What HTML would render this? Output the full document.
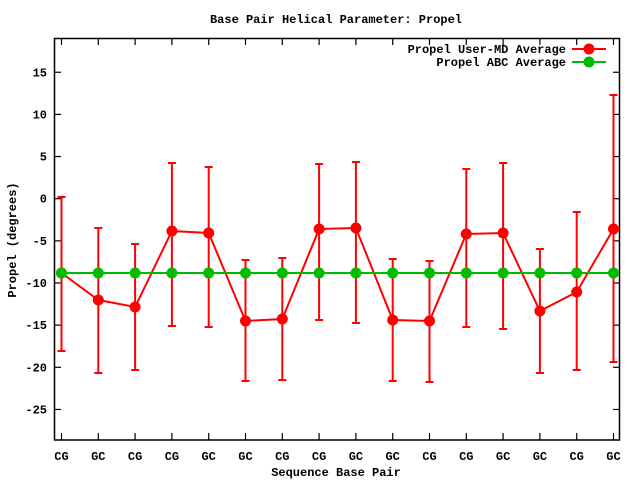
<!DOCTYPE html>
<html><head><style>body{margin:0;background:#fff}svg{display:block}text{font-family:"Liberation Mono",monospace;font-weight:bold;font-size:12px;fill:#000}</style></head><body>
<svg width="640" height="480" xmlns="http://www.w3.org/2000/svg">
<text x="336" y="23" text-anchor="middle">Base Pair Helical Parameter: Propel</text>
<rect x="54.5" y="38.5" width="565" height="401.5" fill="none" stroke="#000" stroke-width="1.5"/>
<g stroke="#000" stroke-width="1.2" id="ticks"></g>
<g id="yl"></g>
<g id="xl"></g>
<text x="16" y="240" text-anchor="middle" transform="rotate(-90 16 240)">Propel (degrees)</text>
<text x="336" y="476" text-anchor="middle">Sequence Base Pair</text>
<text x="566" y="53" text-anchor="end">Propel User-MD Average</text>
<text x="566" y="66" text-anchor="end">Propel ABC Average</text>
<line x1="572" y1="49" x2="606" y2="49" stroke="#f00" stroke-width="2"/>
<circle cx="589" cy="49" r="5.5" fill="#f00"/>
<line x1="572" y1="62" x2="606" y2="62" stroke="#0b0" stroke-width="2"/>
<circle cx="589" cy="62" r="5.5" fill="#0b0"/>
<g id="data"></g>
</svg>
<script>
var ns="http://www.w3.org/2000/svg";
function el(p,t,a,tx){var e=document.createElementNS(ns,t);for(var k in a)e.setAttribute(k,a[k]);if(tx)e.textContent=tx;document.getElementById(p).appendChild(e);}
var y0=198.7,s=8.43;
for(var v=-25;v<=15;v+=5){var y=y0-v*s;el("ticks","line",{x1:54.5,y1:y,x2:61,y2:y});el("ticks","line",{x1:619.5,y1:y,x2:613,y2:y});el("yl","text",{x:47,y:y+4,"text-anchor":"end"},String(v));}
var lab=["CG","GC","CG","CG","GC","GC","CG","CG","GC","GC","CG","CG","GC","GC","CG","GC"];
var X=[];for(var i=0;i<16;i++){var x=61.5+i*36.8;X.push(x);el("ticks","line",{x1:x,y1:440,x2:x,y2:433});el("ticks","line",{x1:x,y1:38.5,x2:x,y2:45});el("xl","text",{x:x,y:460,"text-anchor":"middle"},lab[i]);}
var M=[273,300,307,231,233,321,319,229,228,320,321,234,233,311,292,229];
var L=[197,228,244,163,167,260,258,164,162,259,261,169,163,249,212,95];
var H=[351,373,370,326,327,381,380,320,323,381,382,327,329,373,370,362];
for(i=0;i<16;i++){el("data","line",{x1:X[i],y1:L[i],x2:X[i],y2:H[i],stroke:"#f00","stroke-width":2});el("data","line",{x1:X[i]-4,y1:L[i],x2:X[i]+4,y2:L[i],stroke:"#f00","stroke-width":2});el("data","line",{x1:X[i]-4,y1:H[i],x2:X[i]+4,y2:H[i],stroke:"#f00","stroke-width":2});}
el("data","polyline",{points:X.map(function(x,i){return x+","+M[i]}).join(" "),fill:"none",stroke:"#f00","stroke-width":2});
for(i=0;i<16;i++)el("data","circle",{cx:X[i],cy:M[i],r:5.5,fill:"#f00"});
el("data","line",{x1:X[0],y1:273,x2:X[15],y2:273,stroke:"#0b0","stroke-width":2});
for(i=0;i<16;i++)el("data","circle",{cx:X[i],cy:273,r:5.5,fill:"#0b0"});
</script>
</body></html>
